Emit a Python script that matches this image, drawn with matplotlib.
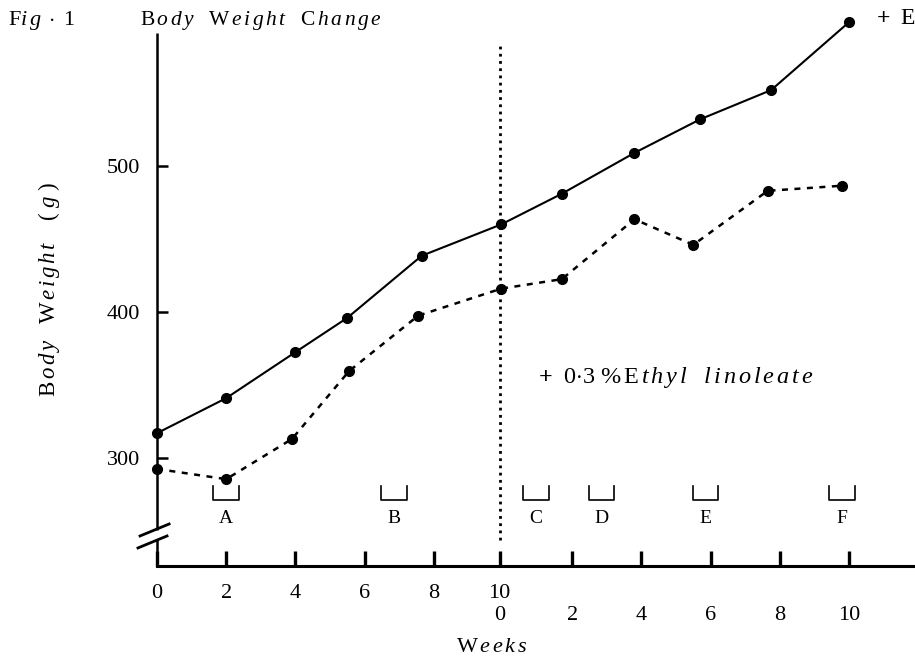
import matplotlib
matplotlib.use("Agg")
import matplotlib.pyplot as plt

plt.rcParams['font.family'] = ['Liberation Serif', 'DejaVu Serif']
plt.rcParams['mathtext.fontset'] = 'custom'
plt.rcParams['mathtext.rm'] = 'Liberation Serif'
plt.rcParams['mathtext.it'] = 'Liberation Serif:italic'
plt.rcParams['mathtext.bf'] = 'Liberation Serif:bold'

# ---- data (weeks on a continuous 0-20 scale: 0-10 before, 0-10 after switch) ----
control_weeks = [0, 2, 4, 5.5, 7.65, 9.95, 11.7, 13.8, 15.7, 17.75, 20.0]
control_weight = [317, 341, 372.5, 396, 438.5, 460, 481, 509, 532, 552, 598.5]
treated_weeks = [0, 2, 3.9, 5.55, 7.55, 9.95, 11.7, 13.8, 15.5, 17.65, 19.8]
treated_weight = [292.5, 285.5, 313, 359.5, 397.5, 416, 422.5, 463.5, 446, 483, 486.5]

period_labels = ['A', 'B', 'C', 'D', 'E', 'F']
period_centers = [2.0, 6.85, 10.95, 12.85, 15.85, 19.8]

xtick_pos = [0, 2, 4, 6, 8, 9.9, 12, 14, 16, 18, 20]
xtick_labels = ['0', '2', '4', '6', '8', '10\n0', '\n2', '\n4', '\n6', '\n8', '\n10']
ytick_pos = [300, 400, 500]
ytick_labels = ['300', '400', '500']
switch_week = 9.9

W, H = 915, 668
fig = plt.figure(figsize=(W / 100, H / 100), dpi=100)
ax = fig.add_axes([157 / W, (H - 566) / H, (W - 157) / W, 566 / H])
ax.set_xlim(0, (W - 157) / 34.6)
ax.set_ylim(300 - 108 / 1.46, 300 + 458 / 1.46)

for s in ['top', 'right', 'left']:
    ax.spines[s].set_visible(False)
ax.spines['bottom'].set_linewidth(2.2)

# y axis with break
ymin = ax.get_ylim()[0]
ax.plot([0, 0], [250.7, 591], color='black', lw=1.8, clip_on=False, solid_capstyle='butt')
ax.plot([0, 0], [ymin, 244.5], color='black', lw=1.8, clip_on=False, solid_capstyle='butt')
ax.plot([-0.49, 0.35], [246.6, 254.8], color='black', lw=2.0, clip_on=False)
ax.plot([-0.55, 0.29], [238.4, 246.6], color='black', lw=2.0, clip_on=False)

ax.set_xticks(xtick_pos)
ax.set_xticklabels(xtick_labels)
ax.set_yticks(ytick_pos)
ax.set_yticklabels(ytick_labels)
ax.tick_params(axis='x', direction='in', length=11, width=2.4, pad=13, labelsize=16)
ax.tick_params(axis='y', direction='in', length=8, width=1.8, pad=12, labelsize=16)
for t in ax.get_xticklabels():
    t.set_linespacing(1.2)

# series
ax.plot(control_weeks, control_weight, color='black', lw=1.5, marker='o', ms=7,
        clip_on=False, zorder=3)
ax.plot(treated_weeks, treated_weight, color='black', lw=1.8, linestyle=(0, (2.4, 2.6)),
        marker='o', ms=7, clip_on=False, zorder=3)

# switch line
ax.plot([switch_week, switch_week], [243.8, 584], color='black', lw=2.0,
        linestyle=(0, (1.0, 1.6)), zorder=2)

# period brackets
half = 0.37
for lab, c in zip(period_labels, period_centers):
    ax.plot([c - half, c - half, c + half, c + half], [280.5, 271.5, 271.5, 280.5],
            color='black', lw=1.2)
    ax.text(c, 258.5, lab, ha='center', va='center', fontsize=14)

# texts
def ft(xp, yp, s, **kw):
    fig.text(xp / W, 1 - yp / H, s, **kw)

ft(8, 20, r"$\mathrm{F}\mathit{i\,g}\ \cdot\ \mathrm{1}$", fontsize=16, ha='left', va='center')
ft(140, 20, r"$\mathrm{B}\,\mathit{o\,d\,y}\ \ \ \mathrm{W}\,\mathit{e\,i\,g\,h\,t}\ \ \ \mathrm{C}\,\mathit{h\,a\,n\,g\,e}$",
   fontsize=15.5, ha='left', va='center')
ft(876, 19, r"$\mathbf{+}\ \ \mathrm{E}$", fontsize=17, ha='left', va='center')
ft(538, 378, r"$\mathbf{+}\ \ \mathrm{0{\cdot}3}\ \mathit{\%}\,\mathrm{E}\,\mathit{t\,h\,y\,l}\ \ \ \mathit{l\,i\,n\,o\,l\,e\,a\,t\,e}$",
   fontsize=17.5, ha='left', va='center')
ft(492, 648, r"$\mathrm{W}\,\mathit{e\,e\,k\,s}$", fontsize=16, ha='center', va='center')
ft(49, 290, r"$\mathrm{B}\,\mathit{o\,d\,y}\ \ \ \mathrm{W}\,\mathit{e\,i\,g\,h\,t}\ \ \ \ (\ \mathit{g}\ )$",
   fontsize=16.5, ha='center', va='center', rotation=90)

fig.savefig('out.png', dpi=100)
